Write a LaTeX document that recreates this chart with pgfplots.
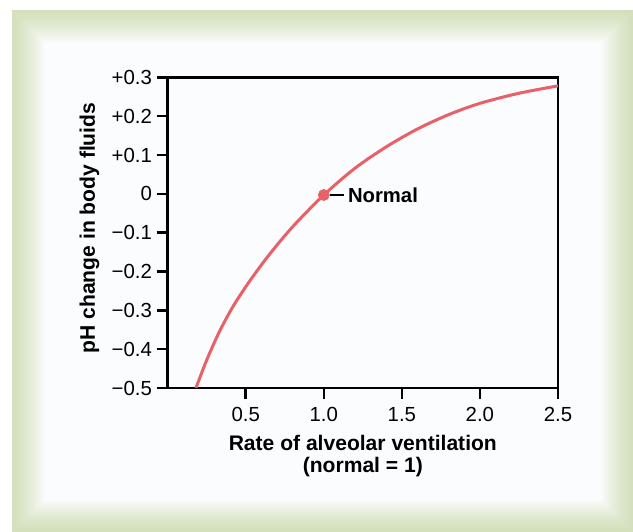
\documentclass[border=0pt]{standalone}
\usepackage{pgfplots}
\pgfplotsset{compat=1.18}
\usepackage{fontspec}
\setmainfont{Liberation Sans}
\definecolor{frameg}{RGB}{212,224,188}
\definecolor{innerw}{RGB}{251,252,253}
\definecolor{curvecol}{RGB}{232,96,104}
\begin{document}
\begin{tikzpicture}[x=0.75pt,y=0.75pt]
\fill[white] (0,0) rectangle (633,532);
\foreach \i in {0,...,33} {
  \pgfmathsetmacro{\t}{\i/33}
  \pgfmathsetmacro{\pct}{100*(\t^1.4)}
  \fill[innerw!\pct!frameg] ({12+33*\t},{32*\t}) rectangle ({633-32*\t},{522-33*\t});
}
\fill[innerw] (45,32) rectangle (601,489);
\begin{axis}[
  at={(125.775pt,108pt)}, anchor=south west,
  scale only axis, width=292.7pt, height=233pt,
  xmin=0, xmax=2.5, ymin=-0.5, ymax=0.3,
  axis line style={line width=1.9pt},
  tick style={line width=1.9pt, black},
  major tick length=8.25pt, tick align=outside,
  xtick pos=bottom, ytick pos=left,
  xtick={0.5,1.0,1.5,2.0,2.5},
  xticklabels={0.5,1.0,1.5,2.0,2.5},
  ytick={-0.5,-0.4,-0.3,-0.2,-0.1,0,0.1,0.2,0.3},
  yticklabels={−0.5,−0.4,−0.3,−0.2,−0.1,0,+0.1,+0.2,+0.3},
  /pgf/number format/assume math mode=true,
  tick label style={font=\fontsize{15.3}{18}\selectfont},
  xticklabel style={yshift=-3pt},
  xlabel={Rate of alveolar ventilation\\(normal = 1)},
  xlabel style={at={(axis description cs:0.5,0)}, anchor=north, inner sep=0pt, yshift=-35.5pt, align=center, font=\bfseries\fontsize{15.8}{16.5}\selectfont},
  ylabel={pH change in body fluids},
  ylabel style={at={([xshift=-51pt]axis description cs:0,0.515)}, anchor=south, inner sep=0pt, font=\bfseries\fontsize{15.8}{16}\selectfont},
]
\addplot[curvecol, line width=2.25pt, smooth] coordinates {
(0.181,-0.500) (0.25,-0.428) (0.33,-0.356) (0.42,-0.289) (0.53,-0.222)
(0.65,-0.157) (0.80,-0.085) (1.00,-0.003) (1.20,0.066) (1.40,0.121)
(1.60,0.167) (1.80,0.204) (2.00,0.233) (2.25,0.259) (2.50,0.278)};
\addplot[only marks, mark=*, mark size=4.2pt, color=curvecol] coordinates {(1,-0.003)};
\draw[line width=1.3pt] ([xshift=4.3pt]axis cs:1,-0.003) -- ([xshift=15.5pt]axis cs:1,-0.003);
\node[anchor=west, inner sep=0pt, font=\bfseries\fontsize{15.2}{16}\selectfont] at ([xshift=18pt]axis cs:1,-0.003) {Normal};
\end{axis}
\end{tikzpicture}
\end{document}
